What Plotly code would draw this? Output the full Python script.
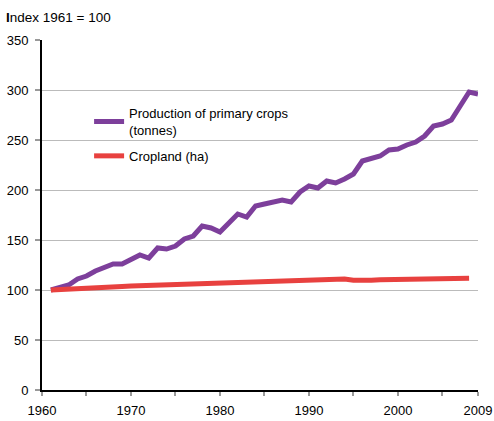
import plotly.graph_objects as go

years_production = list(range(1961, 2010))
production = [100, 102, 105, 111, 114, 119, 122, 126, 126, 131,
              135, 132, 142, 141, 144, 151, 154, 164, 162, 158,
              167, 176, 173, 184, 186, 188, 190, 188, 198, 204,
              202, 209, 207, 211, 216, 229, 232, 234, 240, 241,
              245, 248, 254, 264, 266, 270, 284, 298, 296]

years_cropland = list(range(1961, 2009))
cropland = [100, 100.3, 100.6, 101, 101.5, 102, 102.5, 103, 103.5, 104,
            104.3, 104.5, 104.7, 104.9, 105, 105.1, 105.3, 105.6, 106, 106.2,
            106.5, 107, 107.5, 108, 108.5, 109, 109.3, 109.7, 110, 110.3,
            110.6, 111, 111.3, 111, 109.8, 109.3, 109.8, 110.3, 110.5, 110.7,
            111, 111.2, 111.5, 111.6, 111.7, 111.7, 111.7, 111.7]

x_tickvals = [1960, 1965, 1970, 1975, 1980, 1985, 1990, 1995, 2000, 2005, 2009]
x_ticktext = ["1960", "", "1970", "", "1980", "", "1990", "", "2000", "", "2009"]
y_tickvals = [0, 50, 100, 150, 200, 250, 300, 350]

font_family = "Liberation Sans, Arial, sans-serif"

fig = go.Figure()
fig.add_trace(go.Scatter(
    x=years_production, y=production, mode="lines",
    name="Production of primary crops<br>(tonnes)", legendgroup="a",
    line=dict(color="#7D3F9B", width=5),
))
fig.add_trace(go.Scatter(
    x=years_cropland, y=cropland, mode="lines",
    name="Cropland (ha)", legendgroup="b",
    line=dict(color="#E8413F", width=5),
))

fig.update_layout(
    width=494, height=421,
    margin=dict(l=42, r=16, t=40, b=31, autoexpand=False),
    paper_bgcolor="white", plot_bgcolor="white",
    font=dict(family=font_family, size=13, color="black"),
    showlegend=True,
    legend=dict(x=0.108, y=0.834, xanchor="left", yanchor="top",
                bgcolor="rgba(0,0,0,0)", font=dict(size=13),
                itemwidth=30, tracegroupgap=6, traceorder="grouped"),
    annotations=[dict(text="<b>I</b>ndex 1961 = 100", xref="paper", yref="paper",
                      x=-38/436, y=1 + 23/350, xanchor="left", yanchor="middle",
                      showarrow=False, font=dict(size=13.5))],
)
fig.update_xaxes(
    range=[1960, 2009], tickvals=x_tickvals, ticktext=x_ticktext,
    showgrid=False, showline=True, linecolor="black", linewidth=2,
    ticks="outside", ticklen=4, tickcolor="#999999", tickwidth=2,
    ticklabelstandoff=3,
    zeroline=False, fixedrange=True, automargin=False,
)
fig.update_yaxes(
    range=[0, 350], tickvals=y_tickvals,
    showgrid=True, gridcolor="#BBBBBB", gridwidth=1,
    showline=True, linecolor="black", linewidth=2,
    ticks="outside", ticklen=5, tickcolor="#999999", tickwidth=2,
    ticklabelstandoff=4,
    zeroline=False, fixedrange=True, automargin=False,
)

fig.write_html("out.html", config={"displayModeBar": False},
               post_script="document.body.style.margin='0';")
